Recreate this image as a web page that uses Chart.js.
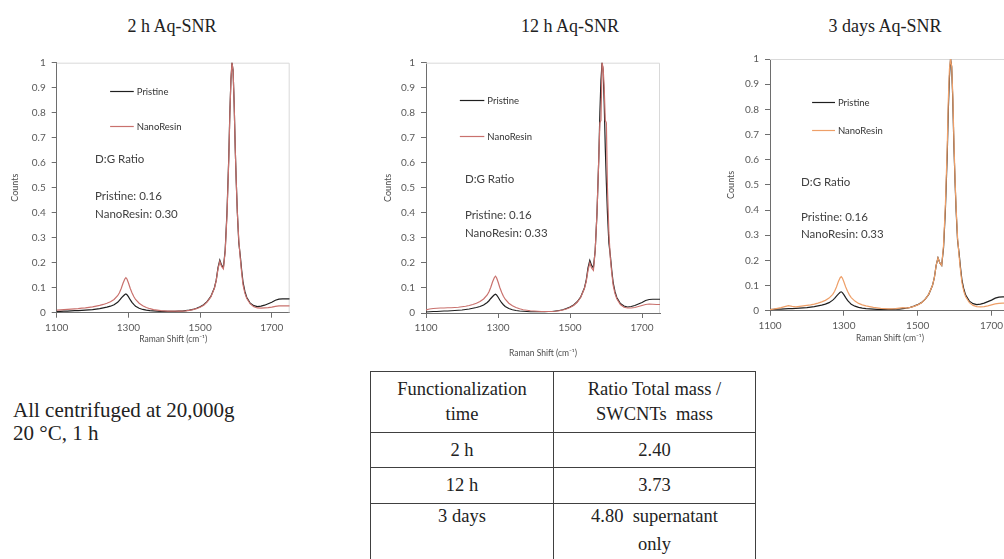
<!DOCTYPE html>
<html>
<head>
<meta charset="utf-8">
<script src="https://cdn.jsdelivr.net/npm/chart.js@4.4.0/dist/chart.umd.min.js"></script>
<style>
  body { margin: 0; width: 1004px; height: 559px; overflow: hidden; background: #fff; position: relative; font-family: "Liberation Serif", "Times New Roman", serif; color: #222; }
  .title { position: absolute; top: 16px; font-size: 18px; transform: translateX(-50%); white-space: nowrap; }
  canvas { position: absolute; }
  .note { position: absolute; left: 13px; top: 399px; font-size: 21px; line-height: 23px; }
  table { position: absolute; left: 370px; top: 371px; border-collapse: collapse; table-layout: fixed; font-size: 18.5px; }
  td { border: 1px solid #404040; text-align: center; padding: 0; line-height: 25px; }
</style>
</head>
<body>
<div id="titles"></div>
<canvas id="c1"></canvas>
<canvas id="c2"></canvas>
<canvas id="c3"></canvas>
<div class="note">All centrifuged at 20,000g<br>20 °C, 1 h</div>
<table id="massTable"></table>

<script>
// Raman spectra, normalised to the G band
const ramanShift = [
  1100, 1110, 1120, 1130, 1140, 1150, 1160, 1170, 1180, 1190, 1200, 1210, 1220, 1230, 1240, 1250, 1260, 1270,
  1275, 1280, 1285, 1290,
  1293, 1296,
  1300, 1305, 1310, 1315, 1320,
  1330, 1340, 1350, 1360, 1370, 1380, 1390, 1400, 1410, 1420, 1430, 1440, 1450, 1460, 1470, 1480, 1490, 1500, 1510, 1520, 1530, 1540,
  1545, 1550, 1555, 1560, 1565, 1570, 1575, 1580,
  1583, 1586, 1589, 1592, 1595, 1598, 1601, 1604,
  1608, 1612, 1616, 1620, 1625, 1630,
  1640, 1650, 1660, 1670, 1680, 1690, 1700, 1710, 1720, 1730, 1740, 1750
];

const pristineCounts = [
  0.004, 0.005, 0.006, 0.006, 0.007, 0.008, 0.008, 0.009, 0.010, 0.011, 0.012, 0.014, 0.016, 0.019, 0.022, 0.026, 0.032, 0.042,
  0.049, 0.058, 0.066, 0.073,
  0.075, 0.072,
  0.064, 0.052, 0.041, 0.033, 0.026,
  0.018, 0.013, 0.010, 0.008, 0.007, 0.006, 0.005, 0.005, 0.005, 0.005, 0.005, 0.006, 0.006, 0.008, 0.010, 0.013, 0.018, 0.024, 0.032, 0.045, 0.065, 0.10,
  0.13, 0.18, 0.21, 0.19, 0.18, 0.25, 0.40, 0.62,
  0.80, 0.93, 1.0, 0.97, 0.84, 0.66, 0.52, 0.40,
  0.28, 0.23, 0.17, 0.12, 0.085, 0.062,
  0.038, 0.028, 0.024, 0.026, 0.030, 0.036, 0.042, 0.050, 0.054, 0.055, 0.055, 0.055
];

const nanoResin2h = [
  0.010, 0.011, 0.012, 0.013, 0.014, 0.015, 0.016, 0.018, 0.019, 0.021, 0.023, 0.026, 0.029, 0.033, 0.038, 0.044, 0.053, 0.068,
  0.080, 0.097, 0.118, 0.135,
  0.140, 0.135,
  0.120, 0.098, 0.080, 0.065, 0.053,
  0.038, 0.028, 0.021, 0.016, 0.012, 0.010, 0.008, 0.007, 0.006, 0.006, 0.006, 0.006, 0.006, 0.007, 0.009, 0.012, 0.016, 0.022, 0.030, 0.043, 0.063, 0.098,
  0.128, 0.175, 0.205, 0.185, 0.175, 0.245, 0.39, 0.61,
  0.79, 0.93, 1.0, 0.97, 0.84, 0.66, 0.52, 0.40,
  0.29, 0.22, 0.16, 0.11, 0.078, 0.058,
  0.035, 0.024, 0.019, 0.018, 0.019, 0.020, 0.022, 0.025, 0.027, 0.027, 0.027, 0.027
];

const nanoResin12h = [
  0.012, 0.016, 0.018, 0.019, 0.020, 0.020, 0.021, 0.021, 0.022, 0.023, 0.025, 0.027, 0.030, 0.034, 0.039, 0.046, 0.056, 0.072,
  0.085, 0.103, 0.125, 0.142,
  0.147, 0.141,
  0.125, 0.102, 0.083, 0.067, 0.055,
  0.039, 0.029, 0.022, 0.017, 0.013, 0.011, 0.009, 0.008, 0.007, 0.006, 0.006, 0.006, 0.006, 0.007, 0.009, 0.012, 0.016, 0.022, 0.030, 0.043, 0.063, 0.098,
  0.125, 0.17, 0.20, 0.18, 0.17, 0.25, 0.40, 0.62,
  0.76, 0.77, 1.0, 0.98, 0.90, 0.77, 0.76, 0.50,
  0.32, 0.22, 0.16, 0.11, 0.078, 0.057,
  0.034, 0.023, 0.020, 0.020, 0.022, 0.026, 0.030, 0.034, 0.036, 0.035, 0.034, 0.034
];

const nanoResin3d = [
  0.004, 0.006, 0.009, 0.012, 0.016, 0.020, 0.017, 0.015, 0.017, 0.019, 0.021, 0.023, 0.026, 0.030, 0.035, 0.041, 0.050, 0.065,
  0.077, 0.094, 0.115, 0.131,
  0.135, 0.130,
  0.115, 0.094, 0.077, 0.063, 0.052,
  0.038, 0.029, 0.023, 0.019, 0.016, 0.013, 0.011, 0.009, 0.008, 0.007, 0.007, 0.008, 0.010, 0.012, 0.010, 0.013, 0.017, 0.023, 0.031, 0.045, 0.066, 0.10,
  0.13, 0.18, 0.21, 0.19, 0.18, 0.26, 0.42, 0.65,
  0.84, 0.96, 1.0, 0.97, 0.86, 0.68, 0.53, 0.41,
  0.29, 0.22, 0.16, 0.11, 0.076, 0.055,
  0.032, 0.021, 0.016, 0.015, 0.016, 0.019, 0.023, 0.027, 0.029, 0.030, 0.030, 0.030
];

const xTicks = [1100, 1300, 1500, 1700];
const yTicks = [0, 0.1, 0.2, 0.3, 0.4, 0.5, 0.6, 0.7, 0.8, 0.9, 1];
const chartTitles = ['2 h Aq-SNR', '12 h Aq-SNR', '3 days Aq-SNR'];
const seriesNames = ['Pristine', 'NanoResin'];
const pristineRatio = ['0.16', '0.16', '0.16'];
const nanoResinRatio = ['0.30', '0.33', '0.33'];

const tableHeader = ['Functionalization<br>time', 'Ratio Total mass /<br>SWCNTs&nbsp; mass'];
const functionalizationTime = ['2 h', '12 h', '3 days'];
const massRatio = ['2.40', '3.73', '4.80'];
const massRatioNote = ['', '', 'supernatant'];

// layout of each panel (pixels) and where the in-plot text sits (data units)
const panels = [
  { canvas: 'c1', nano: nanoResin2h, nanoColor: '#c9716d', titleX: 172,
    box: { left: 0, top: 40, width: 300, height: 330 },
    area: { left: 56.7, right: 289.7, top: 62.7, bottom: 312.7 },
    countsX: 15, xTitlePad: 26,
    legend: { x0: 1249, x1: 1315, y: [0.888, 0.748] },
    notes: { x: 1207, y: [0.612, 0.465, 0.392] } },
  { canvas: 'c2', nano: nanoResin12h, nanoColor: '#c9716d', titleX: 570,
    box: { left: 360, top: 40, width: 310, height: 330 },
    area: { left: 426, right: 660, top: 62.7, bottom: 313 },
    countsX: 388, xTitlePad: 12,
    legend: { x0: 1194, x1: 1262, y: [0.852, 0.708] },
    notes: { x: 1208, y: [0.536, 0.392, 0.32] } },
  { canvas: 'c3', nano: nanoResin3d, nanoColor: '#ee9f68', titleX: 885,
    box: { left: 700, top: 36, width: 320, height: 334 },
    area: { left: 770, right: 1010, top: 59, bottom: 310.7 },
    countsX: 731, xTitlePad: 27,
    legend: { x0: 1214, x1: 1276, y: [0.829, 0.718] },
    notes: { x: 1184, y: [0.511, 0.373, 0.305] } }
];

const tickFont = { family: 'Lato, "Open Sans", sans-serif', size: 10 };
const textColor = '#4d4d4d';

// light plot-area frame (top and right edges)
const frame = {
  id: 'frame',
  beforeDatasetsDraw(chart) {
    const a = chart.chartArea, ctx = chart.ctx;
    ctx.save();
    ctx.strokeStyle = '#d9d9d9';
    ctx.lineWidth = 1;
    ctx.beginPath();
    ctx.moveTo(a.left, a.top + 0.5);
    ctx.lineTo(a.right - 0.5, a.top + 0.5);
    ctx.lineTo(a.right - 0.5, a.bottom);
    ctx.stroke();
    ctx.restore();
  }
};

// in-plot legend and D:G ratio text
const plotText = {
  id: 'plotText',
  afterDraw(chart, args, opts) {
    const ctx = chart.ctx, xs = chart.scales.x, ys = chart.scales.y;
    ctx.save();
    ctx.textBaseline = 'middle';
    ctx.textAlign = 'left';
    const lx0 = xs.getPixelForValue(opts.legend.x0);
    const lx1 = xs.getPixelForValue(opts.legend.x1);
    opts.legendItems.forEach((item, i) => {
      const y = Math.round(ys.getPixelForValue(opts.legend.y[i])) + 0.5;
      ctx.strokeStyle = item.color;
      ctx.lineWidth = 1.2;
      ctx.beginPath();
      ctx.moveTo(lx0, y);
      ctx.lineTo(lx1, y);
      ctx.stroke();
      ctx.fillStyle = '#333';
      ctx.font = '9.5px Lato, "Open Sans", sans-serif';
      ctx.fillText(item.label, lx1 + 3, y);
    });
    ctx.font = '11.5px Lato, "Open Sans", sans-serif';
    ctx.fillStyle = '#404040';
    const nx = xs.getPixelForValue(opts.notes.x);
    opts.lines.forEach((t, i) => ctx.fillText(t, nx, ys.getPixelForValue(opts.notes.y[i])));
    ctx.restore();
  }
};

// slide titles
const titleBox = document.getElementById('titles');
panels.forEach((p, i) => {
  const d = document.createElement('div');
  d.className = 'title';
  d.style.left = p.titleX + 'px';
  d.textContent = chartTitles[i];
  titleBox.appendChild(d);
});

panels.forEach((p, i) => {
  const el = document.getElementById(p.canvas);
  el.width = p.box.width;
  el.height = p.box.height;
  el.style.left = p.box.left + 'px';
  el.style.top = p.box.top + 'px';

  const yWidth = p.area.left - p.box.left;
  const xHeight = p.box.top + p.box.height - p.area.bottom;

  new Chart(el, {
    type: 'line',
    data: {
      datasets: [
        {
          label: seriesNames[1],
          data: ramanShift.map((x, k) => ({ x: x, y: p.nano[k] })),
          borderColor: p.nanoColor,
          borderWidth: 1.2,
          pointRadius: 0,
          tension: 0
        },
        {
          label: seriesNames[0],
          data: ramanShift.map((x, k) => ({ x: x, y: pristineCounts[k] })),
          borderColor: '#1f1f1f',
          borderWidth: 1.2,
          pointRadius: 0,
          tension: 0
        }
      ]
    },
    options: {
      responsive: false,
      animation: false,
      devicePixelRatio: 1,
      layout: {
        padding: { left: 0, top: p.area.top - p.box.top, right: p.box.left + p.box.width - p.area.right, bottom: 0 }
      },
      plugins: {
        legend: { display: false },
        tooltip: { enabled: false },
        plotText: {
          legend: p.legend,
          notes: p.notes,
          legendItems: [
            { label: seriesNames[0], color: '#1f1f1f' },
            { label: seriesNames[1], color: p.nanoColor }
          ],
          lines: ['D:G Ratio', 'Pristine: ' + pristineRatio[i], 'NanoResin: ' + nanoResinRatio[i]]
        }
      },
      scales: {
        x: {
          type: 'linear',
          min: 1100,
          max: 1750,
          afterBuildTicks: s => { s.ticks = xTicks.map(v => ({ value: v })); },
          afterFit: s => { s.height = xHeight; },
          grid: { drawOnChartArea: false, tickLength: 5, color: '#6e6e6e' },
          border: { color: '#6e6e6e', width: 1 },
          ticks: {
            autoSkip: false,
            maxRotation: 0,
            padding: 4,
            color: '#595959',
            font: tickFont,
            callback: v => String(v)
          },
          title: {
            display: true,
            text: 'Raman Shift (cm⁻¹)',
            color: textColor,
            font: { family: 'Lato, "Open Sans", sans-serif', size: 8.5 },
            padding: { top: 0, bottom: p.xTitlePad }
          }
        },
        y: {
          min: 0,
          max: 1,
          afterBuildTicks: s => { s.ticks = yTicks.map(v => ({ value: v })); },
          afterFit: s => { s.width = yWidth; },
          grid: { drawOnChartArea: false, tickLength: 5, color: '#6e6e6e' },
          border: { color: '#6e6e6e', width: 1 },
          ticks: {
            padding: 6,
            color: '#595959',
            font: tickFont,
            callback: v => String(Math.round(v * 10) / 10)
          },
          title: {
            display: true,
            text: 'Counts',
            color: textColor,
            font: { family: 'Lato, "Open Sans", sans-serif', size: 9 },
            padding: { top: p.countsX - p.box.left - 5.4, bottom: 0 }
          }
        }
      }
    },
    plugins: [frame, plotText]
  });
});

// mass ratio table
const table = document.getElementById('massTable');
let html = '<col style="width:183px"><col style="width:202px">';
html += '<tr style="height:61px"><td>' + tableHeader[0] + '</td><td>' + tableHeader[1] + '</td></tr>';
functionalizationTime.forEach((t, i) => {
  if (massRatioNote[i]) {
    html += '<tr style="height:80px"><td style="vertical-align:top">' + t + '</td>' +
      '<td style="vertical-align:top">' + massRatio[i] + '&nbsp; ' + massRatioNote[i] +
      '<div style="margin-top:3px">only</div></td></tr>';
  } else {
    html += '<tr style="height:' + (i === 0 ? 35 : 36) + 'px"><td>' + t + '</td><td>' + massRatio[i] + '</td></tr>';
  }
});
table.innerHTML = html;
</script>
</body>
</html>
